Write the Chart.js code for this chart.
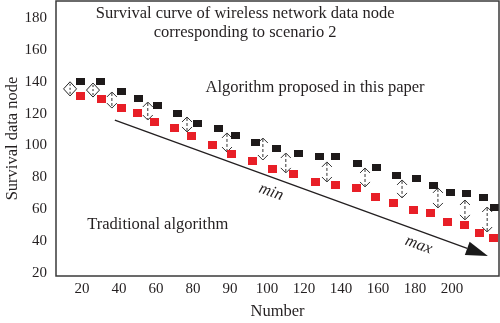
<!DOCTYPE html>
<html><head><meta charset="utf-8">
<script src="https://cdn.jsdelivr.net/npm/chart.js@4/dist/chart.umd.min.js"></script>
<style>html,body{margin:0;padding:0;background:#fff;}canvas{display:block;}</style>
</head><body>
<canvas id="c" width="500" height="323"></canvas>
<script>
// ---- data ----
const xTickLabels = ['20','40','60','80','90','100','120','140','160','180','200'];
const yTickValues = [20,40,60,80,100,120,140,160,180];

// "Algorithm proposed in this paper" (black squares); x in category-index units
const proposedX = [-0.03,0.49,1.08,1.54,2.05,2.59,3.11,3.70,4.14,4.70,5.27,5.84,6.41,6.86,7.46,7.95,8.51,9.03,9.49,9.97,10.38,10.84,11.14];
const proposedY = [140,140,133.6,129.2,125.4,120.4,114.1,110.4,106,102.2,98.4,94.7,92.8,92.8,89,86.5,80.9,79,75.2,70.8,69.6,67.1,61.4];

// "Traditional algorithm" (red squares)
const traditionalX = [-0.03,0.54,1.08,1.51,1.97,2.51,2.97,3.54,4.03,4.62,5.16,5.73,6.30,6.84,7.41,7.92,8.43,8.95,9.43,9.89,10.35,10.73,11.11];
const traditionalY = [131.1,129.2,123.5,120.4,114.8,111,106,100.3,94.7,90.3,85.3,82.1,77.1,75.2,73.4,67.7,63.9,59.5,57.7,52,50.1,45.1,42];

// dashed double arrows (difference markers)
const arrowX = [0.81,1.78,2.84,3.92,4.89,5.51,6.62,7.65,8.65,9.62,10.35,10.95];
const arrowTop = [133.6,127.3,117.9,107.9,104.7,95.3,89.7,85.9,78.4,73.4,65.8,61.4];
const arrowBottom = [123.5,116.0,108.5,95.9,90.9,82.8,77.1,74.0,67.1,60.8,53.3,45.7];

// diamond markers at the start
const diamondX = [-0.32,0.30];
const diamondTop = [140.0,139.2];
const diamondBottom = [131.1,130.4];

// trend arrow (min -> max)
const trendStart = {x:0.89, y:116.0};
const trendEnd = {x:10.97, y:30.7};

const FONT = '"Liberation Serif", "Times New Roman", serif';
const TXT = '#231f20';

function makeSquare(color, w, h) {
  const c = document.createElement('canvas');
  c.width = w; c.height = h;
  const g = c.getContext('2d');
  g.fillStyle = color; g.fillRect(0, 0, w, h);
  return c;
}
const blackSq = makeSquare('#1e1a1a', 9, 7);
const redSq = makeSquare('#e81f27', 9, 8);

function drawDashedArrow(ctx, x, yTop, yBot) {
  ctx.save();
  ctx.strokeStyle = '#333';
  ctx.lineWidth = 1;
  ctx.setLineDash([3, 2]);
  ctx.beginPath();
  ctx.moveTo(x, yTop + 1); ctx.lineTo(x, yBot - 1);
  ctx.stroke();
  ctx.setLineDash([]);
  ctx.beginPath();
  ctx.moveTo(x - 5, yTop + 5); ctx.lineTo(x, yTop); ctx.lineTo(x + 5, yTop + 5);
  ctx.moveTo(x - 5, yBot - 5); ctx.lineTo(x, yBot); ctx.lineTo(x + 5, yBot - 5);
  ctx.stroke();
  ctx.restore();
}

const annotations = {
  id: 'annotations',
  beforeDatasetsDraw(chart) {
    const {ctx, scales: {x, y}} = chart;
    arrowX.forEach((v, i) => drawDashedArrow(ctx, x.getPixelForValue(v), y.getPixelForValue(arrowTop[i]), y.getPixelForValue(arrowBottom[i])));
    diamondX.forEach((v, i) => {
      const px = x.getPixelForValue(v), t = y.getPixelForValue(diamondTop[i]), b = y.getPixelForValue(diamondBottom[i]);
      const m = (t + b) / 2;
      ctx.save();
      ctx.strokeStyle = '#222'; ctx.lineWidth = 1;
      ctx.beginPath();
      ctx.moveTo(px, t); ctx.lineTo(px + 6.5, m); ctx.lineTo(px, b); ctx.lineTo(px - 6.5, m); ctx.closePath();
      ctx.stroke();
      ctx.setLineDash([2, 2]);
      ctx.beginPath(); ctx.moveTo(px, t + 2); ctx.lineTo(px, b - 2); ctx.stroke();
      ctx.restore();
    });
    // trend arrow
    const x0 = x.getPixelForValue(trendStart.x), y0 = y.getPixelForValue(trendStart.y);
    const x1 = x.getPixelForValue(trendEnd.x), y1 = y.getPixelForValue(trendEnd.y);
    const ang = Math.atan2(y1 - y0, x1 - x0);
    const hl = 22, hw = 7;
    const bx = x1 - hl * Math.cos(ang), by = y1 - hl * Math.sin(ang);
    ctx.save();
    ctx.strokeStyle = '#231f20'; ctx.fillStyle = '#1a1a1a'; ctx.lineWidth = 1.3;
    ctx.beginPath(); ctx.moveTo(x0, y0); ctx.lineTo(bx, by); ctx.stroke();
    ctx.beginPath();
    ctx.moveTo(x1, y1);
    ctx.lineTo(bx + hw * Math.sin(ang), by - hw * Math.cos(ang));
    ctx.lineTo(bx - hw * Math.sin(ang), by + hw * Math.cos(ang));
    ctx.closePath(); ctx.fill();
    // min / max labels
    ctx.fillStyle = TXT;
    ctx.font = 'italic 16.5px ' + FONT;
    ctx.textAlign = 'center'; ctx.textBaseline = 'middle';
    [['min', 5.11, 70.8], ['max', 9.1, 37.6]].forEach(([t, vx, vy]) => {
      ctx.save();
      ctx.translate(x.getPixelForValue(vx), y.getPixelForValue(vy));
      ctx.rotate(ang);
      ctx.fillText(t, 0, 0);
      ctx.restore();
    });
    ctx.restore();
  },
  afterDraw(chart) {
    const {ctx, chartArea: a, scales: {x, y}} = chart;
    ctx.save();
    ctx.strokeStyle = '#3a3a3a'; ctx.lineWidth = 1.5;
    ctx.strokeRect(a.left, a.top, a.right - a.left, a.bottom - a.top);
    ctx.fillStyle = TXT;
    ctx.font = '16.5px ' + FONT;
    ctx.textAlign = 'center'; ctx.textBaseline = 'middle';
    [['Survival curve of wireless network data node', 4.41, 182.5],
     ['corresponding to scenario 2', 4.41, 170.6],
     ['Algorithm proposed in this paper', 6.30, 136.1],
     ['Traditional algorithm', 2.05, 50.1]].forEach(([t, vx, vy]) => {
      ctx.fillText(t, x.getPixelForValue(vx), y.getPixelForValue(vy));
    });
    ctx.restore();
  }
};

new Chart(document.getElementById('c'), {
  type: 'scatter',
  data: {
    datasets: [
      {label: 'Algorithm proposed in this paper', data: proposedX.map((v, i) => ({x: v, y: proposedY[i]})), pointStyle: blackSq, pointRadius: 5},
      {label: 'Traditional algorithm', data: traditionalX.map((v, i) => ({x: v, y: traditionalY[i]})), pointStyle: redSq, pointRadius: 5}
    ]
  },
  options: {
    responsive: false,
    animation: false,
    events: [],
    clip: false,
    layout: {autoPadding: false, padding: {top: 1, right: 1, left: 0, bottom: 0}},
    plugins: {legend: {display: false}, tooltip: {enabled: false}},
    scales: {
      x: {
        type: 'linear', min: -0.70, max: 11.27,
        afterBuildTicks: s => { s.ticks = xTickLabels.map((_, i) => ({value: i})); },
        afterFit: s => { s.height = 47; s.paddingLeft = 0; s.paddingRight = 0; },
        grid: {display: false, drawTicks: false},
        border: {display: false},
        ticks: {padding: 4, color: TXT, font: {family: FONT, size: 15}, callback: v => xTickLabels[v], maxRotation: 0, autoSkip: false},
        title: {display: true, text: 'Number', color: TXT, font: {family: FONT, size: 16.5}, padding: {top: 0, bottom: 1}}
      },
      y: {
        type: 'linear', min: 18.1, max: 190.7,
        afterBuildTicks: s => { s.ticks = yTickValues.map(v => ({value: v})); },
        afterFit: s => { s.width = 56; s.paddingTop = 0; s.paddingBottom = 0; },
        grid: {display: false, drawTicks: false},
        border: {display: false},
        ticks: {padding: 9, color: TXT, font: {family: FONT, size: 15}},
        title: {display: true, text: 'Survival data node', color: TXT, font: {family: FONT, size: 16.5}, padding: {top: 3, bottom: 0}}
      }
    }
  },
  plugins: [annotations]
});
</script>
</body></html>
